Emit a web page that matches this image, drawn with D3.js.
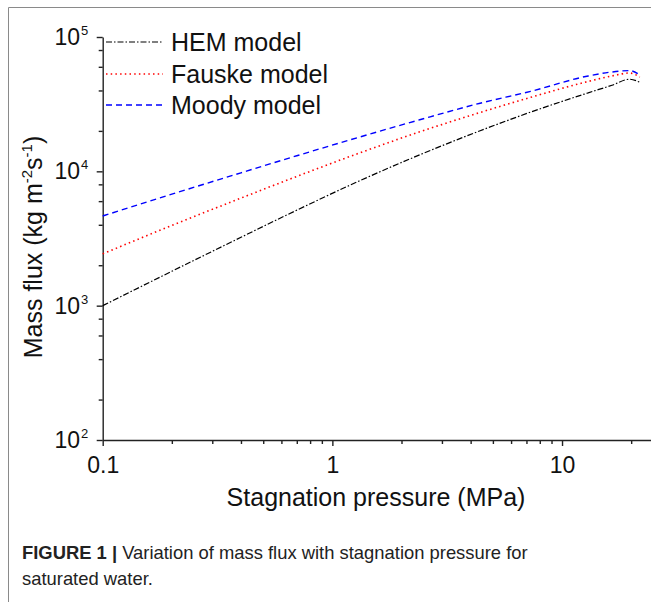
<!DOCTYPE html>
<html>
<head>
<meta charset="utf-8">
<script src="https://cdn.jsdelivr.net/npm/d3@7"></script>
<style>
  body { margin: 0; background: #fff; }
  svg { display: block; font-family: "Liberation Sans", Arial, sans-serif; }
  .caption { font-family: "Liberation Sans Narrow", "Liberation Sans", Arial, sans-serif; }
</style>
</head>
<body>
<div id="chart"></div>
<script>
// values
var pressure   = [0.1, 0.2, 0.4, 0.7, 1.3, 2.4, 4.4, 7.3, 13, 16.5, 19.7, 21.8];
var hemFlux    = [1000, 1803, 3228, 5140, 8430, 13270, 20050, 27600, 38400, 43750, 48500, 46000];
var fauskeFlux = [2430, 3955, 6320, 9160, 13610, 19680, 27420, 35550, 46670, 51290, 53950, 50200];
var moodyFlux  = [4650, 6760, 9750, 13060, 17900, 24200, 32150, 39400, 51300, 54900, 56200, 52200];

var seriesNames = ["HEM model", "Fauske model", "Moody model"];
var xMajor = [0.1, 1, 10];
var xMinor = [0.2, 0.3, 0.4, 0.5, 0.6, 0.7, 0.8, 0.9, 2, 3, 4, 5, 6, 7, 8, 9, 20];
var yMajor = [1e2, 1e3, 1e4, 1e5];
var yMinor = [200, 400, 600, 800, 2000, 4000, 6000, 8000, 20000, 40000, 60000, 80000];

function chart() {
    var width = 651;
    var height = 602;

    var svg = d3.select("#chart")
                .append("svg")
                .attr("width", width)
                .attr("height", height);

    // figure frame (cut off on right and bottom)
    svg.append("path")
        .attr("d", "M8.5," + height + "V7.5H" + width)
        .attr("fill", "none")
        .attr("stroke", "#8a8a8a")
        .attr("stroke-width", 1);

    var xScale = d3.scaleLog()
                    .domain([0.1, 24.4])
                    .range([102.7, 651]);

    var yScale = d3.scaleLog()
                    .domain([100, 1e5])
                    .range([440, 37]);

    // minor ticks
    svg.append("g")
        .attr("transform", "translate(0,440)")
        .call(d3.axisBottom(xScale).tickValues(xMinor).tickSize(4).tickFormat(""))
        .call(function(g) { g.select(".domain").remove(); });
    svg.append("g")
        .attr("transform", "translate(102.7,0)")
        .call(d3.axisLeft(yScale).tickValues(yMinor).tickSize(4).tickFormat(""))
        .call(function(g) { g.select(".domain").remove(); });

    // major axes
    var xAxis = svg.append("g")
        .attr("transform", "translate(0,440)")
        .call(d3.axisBottom(xScale).tickValues(xMajor).tickSizeInner(6).tickSizeOuter(0)
              .tickFormat(function(d) { return d; }));
    xAxis.selectAll("text")
        .attr("y", 0)
        .attr("dy", 33)
        .attr("fill", "#111")
        .style("font-size", "23px");

    var yAxis = svg.append("g")
        .attr("transform", "translate(102.7,0)")
        .call(d3.axisLeft(yScale).tickValues(yMajor).tickSizeInner(6).tickSizeOuter(0).tickFormat(""));

    svg.selectAll(".domain, .tick line")
        .attr("stroke", "#222")
        .attr("stroke-width", 1.4);

    // y tick labels as 10 with superscript exponent
    var yLabels = svg.append("g").attr("fill", "#111");
    yMajor.forEach(function(v) {
        yLabels.append("text")
            .attr("x", 80)
            .attr("y", yScale(v) + 8)
            .attr("text-anchor", "end")
            .style("font-size", "23px")
            .text("10");
        yLabels.append("text")
            .attr("x", 81)
            .attr("y", yScale(v) - 2)
            .style("font-size", "13px")
            .text(Math.round(Math.log10(v)));
    });

    // curves
    var line = d3.line()
        .x(function(d) { return xScale(d[0]); })
        .y(function(d) { return yScale(d[1]); })
        .curve(d3.curveMonotoneX);

    var styles = [
        { color: "#000000", dash: "6,2,1.5,2", w: 1.2 },
        { color: "#ff0000", dash: "1.5,3.2", w: 1.6 },
        { color: "#0000ff", dash: "6,4", w: 1.4 }
    ];
    var fluxes = [hemFlux, fauskeFlux, moodyFlux];

    fluxes.forEach(function(f, i) {
        svg.append("path")
            .datum(pressure.map(function(p, j) { return [p, f[j]]; }))
            .attr("d", line)
            .attr("fill", "none")
            .attr("stroke", styles[i].color)
            .attr("stroke-width", styles[i].w)
            .attr("stroke-dasharray", styles[i].dash);
    });

    // legend
    var legendY = [42, 74, 105];
    seriesNames.forEach(function(name, i) {
        svg.append("line")
            .attr("x1", 106).attr("x2", 163)
            .attr("y1", legendY[i]).attr("y2", legendY[i])
            .attr("stroke", styles[i].color)
            .attr("stroke-width", styles[i].w)
            .attr("stroke-dasharray", styles[i].dash);
        svg.append("text")
            .attr("x", 171)
            .attr("y", legendY[i] + 9)
            .attr("fill", "#111")
            .style("font-size", "25px")
            .text(name);
    });

    // X Axis Label
    svg.append("text")
        .attr("x", 376)
        .attr("y", 506)
        .attr("text-anchor", "middle")
        .attr("fill", "#111")
        .style("font-size", "25px")
        .text("Stagnation pressure (MPa)");

    // Y Axis Label
    var yl = svg.append("text")
        .attr("transform", "translate(42,247) rotate(-90)")
        .attr("text-anchor", "middle")
        .attr("fill", "#111")
        .style("font-size", "25px");
    yl.append("tspan").text("Mass flux (kg m");
    yl.append("tspan").attr("dy", -10).style("font-size", "15px").text("-2");
    yl.append("tspan").attr("dy", 10).text("s");
    yl.append("tspan").attr("dy", -10).style("font-size", "15px").text("-1");
    yl.append("tspan").attr("dy", 10).text(")");

    // caption
    var cap = svg.append("text")
        .attr("class", "caption")
        .attr("x", 22)
        .attr("y", 559)
        .attr("fill", "#222")
        .style("font-size", "18.4px");
    cap.append("tspan").style("font-weight", "bold").text("FIGURE 1 | ");
    cap.append("tspan").text("Variation of mass flux with stagnation pressure for");
    svg.append("text")
        .attr("class", "caption")
        .attr("x", 22)
        .attr("y", 585)
        .attr("fill", "#222")
        .style("font-size", "18.4px")
        .text("saturated water.");
}

window.onload = chart;
</script>
</body>
</html>
